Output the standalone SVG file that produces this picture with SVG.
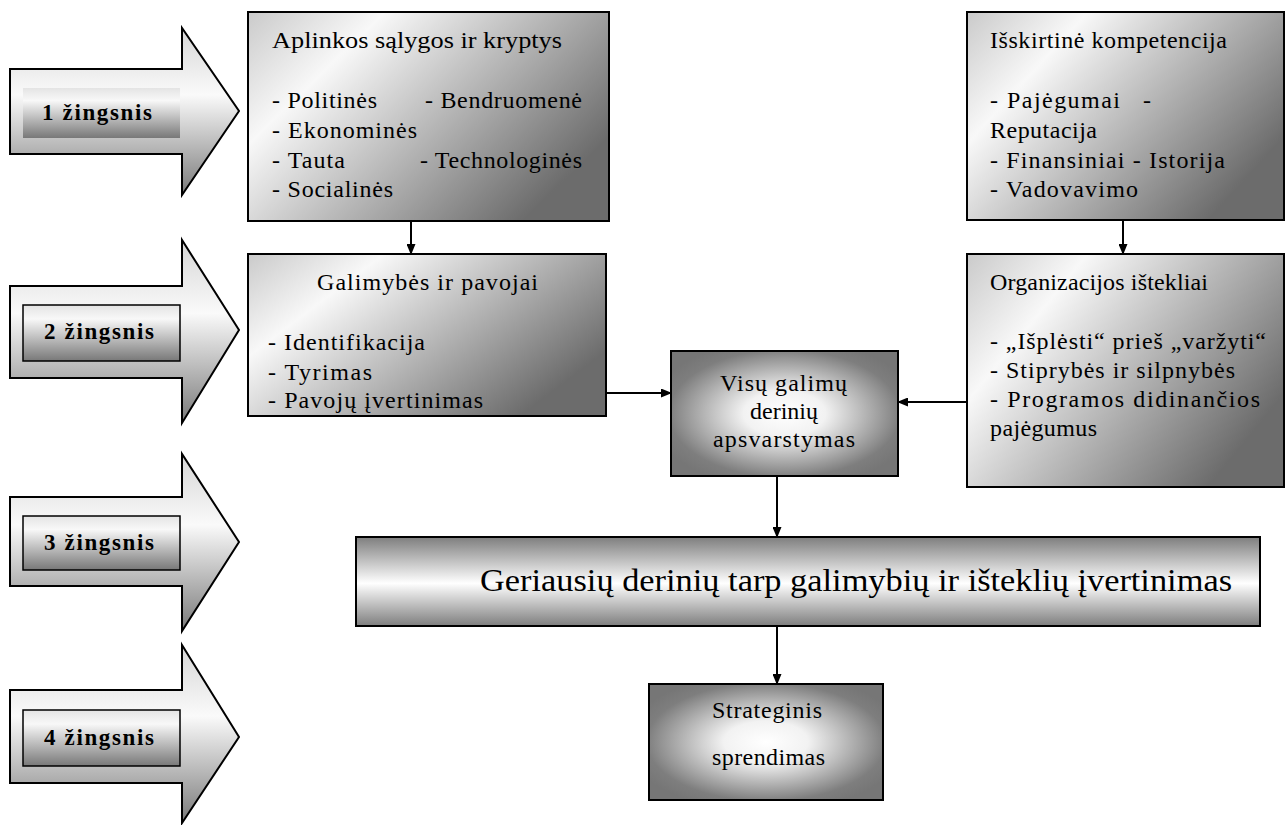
<svg xmlns="http://www.w3.org/2000/svg" width="1286" height="825" viewBox="0 0 1286 825">
  <style>
    .txt { font-family: "Liberation Serif", "Times New Roman", serif; font-size: 24px; fill: #000; }
    .step { font-family: "Liberation Serif", "Times New Roman", serif; font-size: 23px; font-weight: bold; fill: #000; }
    .big { font-family: "Liberation Serif", "Times New Roman", serif; font-size: 32px; fill: #000; }
    .edge { stroke: #000; stroke-width: 2; }
    .conn { stroke: #000; stroke-width: 2; fill: none; marker-end: url(#head); }
  </style>
  <defs>
    <marker id="head" markerUnits="userSpaceOnUse" markerWidth="11" markerHeight="9" refX="10" refY="4.5" orient="auto">
      <path d="M0,0 L11,4.5 L0,9 z" fill="#000"/>
    </marker>
    <!-- block arrows on the left -->
    <linearGradient id="gArrow" x1="0" y1="0" x2="0" y2="1">
      <stop offset="0" stop-color="#d6d6d6"/>
      <stop offset="0.4" stop-color="#fafafa"/>
      <stop offset="1" stop-color="#7a7a7a"/>
    </linearGradient>
    <linearGradient id="gLabel" x1="0" y1="0" x2="0" y2="1">
      <stop offset="0" stop-color="#e4e4e4"/>
      <stop offset="0.25" stop-color="#f8f8f8"/>
      <stop offset="1" stop-color="#787878"/>
    </linearGradient>
    <!-- text boxes: light on the left, dark at lower right -->
    <linearGradient id="gBox" x1="0" y1="0" x2="1" y2="0.6">
      <stop offset="0" stop-color="#cacaca"/>
      <stop offset="0.28" stop-color="#f8f8f8"/>
      <stop offset="1" stop-color="#6c6c6c"/>
    </linearGradient>
    <!-- centre-lit boxes -->
    <radialGradient id="gCenter" cx="0.5" cy="0.5" r="0.6">
      <stop offset="0" stop-color="#ffffff"/>
      <stop offset="0.3" stop-color="#f2f2f2"/>
      <stop offset="0.85" stop-color="#7e7e7e"/>
      <stop offset="1" stop-color="#767676"/>
    </radialGradient>
    <!-- horizontal band -->
    <linearGradient id="gBand" x1="0" y1="0" x2="0" y2="1">
      <stop offset="0" stop-color="#7e7e7e"/>
      <stop offset="0.52" stop-color="#ffffff"/>
      <stop offset="1" stop-color="#7e7e7e"/>
    </linearGradient>
  </defs>

  <!-- step arrows -->
  <g id="step1">
    <polygon points="10,69 182,69 182,28 239,111 182,195 182,154 10,154" fill="url(#gArrow)" class="edge"/>
    <rect x="23" y="88" width="157" height="50" fill="url(#gLabel)"/>
    <text class="step" x="42" y="120" textLength="110" lengthAdjust="spacing">1 žingsnis</text>
  </g>
  <g id="step2">
    <polygon points="10,286 182,286 182,240 239,330 182,423 182,378 10,378" fill="url(#gArrow)" class="edge"/>
    <rect x="23" y="305" width="157" height="56" fill="url(#gLabel)" stroke="#000" stroke-width="1.5"/>
    <text class="step" x="44" y="339" textLength="110" lengthAdjust="spacing">2 žingsnis</text>
  </g>
  <g id="step3">
    <polygon points="10,497 182,497 182,454 239,542 182,631 182,586 10,586" fill="url(#gArrow)" class="edge"/>
    <rect x="23" y="516" width="157" height="54" fill="url(#gLabel)" stroke="#000" stroke-width="1.5"/>
    <text class="step" x="44" y="550" textLength="110" lengthAdjust="spacing">3 žingsnis</text>
  </g>
  <g id="step4">
    <polygon points="10,690 182,690 182,645 239,737 182,823 182,783 10,783" fill="url(#gArrow)" class="edge"/>
    <rect x="23" y="710" width="157" height="56" fill="url(#gLabel)" stroke="#000" stroke-width="1.5"/>
    <text class="step" x="44" y="745" textLength="110" lengthAdjust="spacing">4 žingsnis</text>
  </g>

  <!-- environment -->
  <g id="aplinka">
    <rect x="248" y="12" width="361" height="209" fill="url(#gBox)" class="edge"/>
    <text class="txt" x="272" y="48" textLength="290" lengthAdjust="spacingAndGlyphs">Aplinkos sąlygos ir kryptys</text>
    <text class="txt" x="272" y="108" textLength="105" lengthAdjust="spacing">- Politinės</text>
    <text class="txt" x="425" y="108" textLength="157" lengthAdjust="spacing">- Bendruomenė</text>
    <text class="txt" x="272" y="138" textLength="145" lengthAdjust="spacing">- Ekonominės</text>
    <text class="txt" x="272" y="168" textLength="73" lengthAdjust="spacing">- Tauta</text>
    <text class="txt" x="420" y="168" textLength="162" lengthAdjust="spacing">- Technologinės</text>
    <text class="txt" x="272" y="197" textLength="121" lengthAdjust="spacing">- Socialinės</text>
  </g>

  <!-- distinctive competence -->
  <g id="kompetencija">
    <rect x="967" y="12" width="317" height="208" fill="url(#gBox)" class="edge"/>
    <text class="txt" x="990" y="48" textLength="237" lengthAdjust="spacing">Išskirtinė kompetencija</text>
    <text class="txt" x="990" y="108" textLength="130" lengthAdjust="spacing">- Pajėgumai</text>
    <text class="txt" x="1143" y="108">-</text>
    <text class="txt" x="990" y="138" textLength="107" lengthAdjust="spacing">Reputacija</text>
    <text class="txt" x="990" y="168" textLength="235" lengthAdjust="spacing">- Finansiniai  - Istorija</text>
    <text class="txt" x="990" y="197" textLength="148" lengthAdjust="spacing">- Vadovavimo</text>
  </g>

  <!-- opportunities and threats -->
  <g id="galimybes">
    <rect x="248" y="254" width="358" height="162" fill="url(#gBox)" class="edge"/>
    <text class="txt" x="317" y="290" textLength="221" lengthAdjust="spacing">Galimybės ir pavojai</text>
    <text class="txt" x="268" y="350" textLength="157" lengthAdjust="spacing">- Identifikacija</text>
    <text class="txt" x="268" y="380" textLength="104" lengthAdjust="spacing">- Tyrimas</text>
    <text class="txt" x="268" y="408" textLength="215" lengthAdjust="spacing">- Pavojų įvertinimas</text>
  </g>

  <!-- organisational resources -->
  <g id="istekliai">
    <rect x="967" y="254" width="317" height="233" fill="url(#gBox)" class="edge"/>
    <text class="txt" x="990" y="290" textLength="218" lengthAdjust="spacing">Organizacijos ištekliai</text>
    <text class="txt" x="990" y="349" textLength="276" lengthAdjust="spacing">- „Išplėsti“ prieš „varžyti“</text>
    <text class="txt" x="990" y="378" textLength="245" lengthAdjust="spacing">- Stiprybės ir silpnybės</text>
    <text class="txt" x="990" y="407" textLength="270" lengthAdjust="spacing">- Programos didinančios</text>
    <text class="txt" x="990" y="436" textLength="107" lengthAdjust="spacing">pajėgumus</text>
  </g>

  <!-- all combinations -->
  <g id="deriniai">
    <rect x="671" y="351" width="227" height="125" fill="url(#gCenter)" class="edge"/>
    <text class="txt" x="720" y="391" textLength="127" lengthAdjust="spacing">Visų galimų</text>
    <text class="txt" x="784" y="419" text-anchor="middle">derinių</text>
    <text class="txt" x="713" y="447" textLength="142" lengthAdjust="spacing">apsvarstymas</text>
  </g>

  <!-- best combinations -->
  <g id="vertinimas">
    <rect x="356" y="537" width="904" height="89" fill="url(#gBand)" class="edge"/>
    <text class="big" x="480" y="591" textLength="752" lengthAdjust="spacingAndGlyphs">Geriausių derinių tarp galimybių ir išteklių įvertinimas</text>
  </g>

  <!-- strategic decision -->
  <g id="sprendimas">
    <rect x="649" y="684" width="234" height="116" fill="url(#gCenter)" class="edge"/>
    <text class="txt" x="712" y="718" textLength="110" lengthAdjust="spacing">Strateginis</text>
    <text class="txt" x="712" y="765" textLength="113" lengthAdjust="spacing">sprendimas</text>
  </g>

  <!-- connectors -->
  <g id="connectors">
    <line class="conn" x1="411" y1="221" x2="411" y2="254"/>
    <line class="conn" x1="1123" y1="220" x2="1123" y2="254"/>
    <line class="conn" x1="606" y1="393" x2="671" y2="393"/>
    <line class="conn" x1="967" y1="402" x2="898" y2="402"/>
    <line class="conn" x1="777" y1="476" x2="777" y2="537"/>
    <line class="conn" x1="777" y1="626" x2="777" y2="684"/>
  </g>
</svg>
